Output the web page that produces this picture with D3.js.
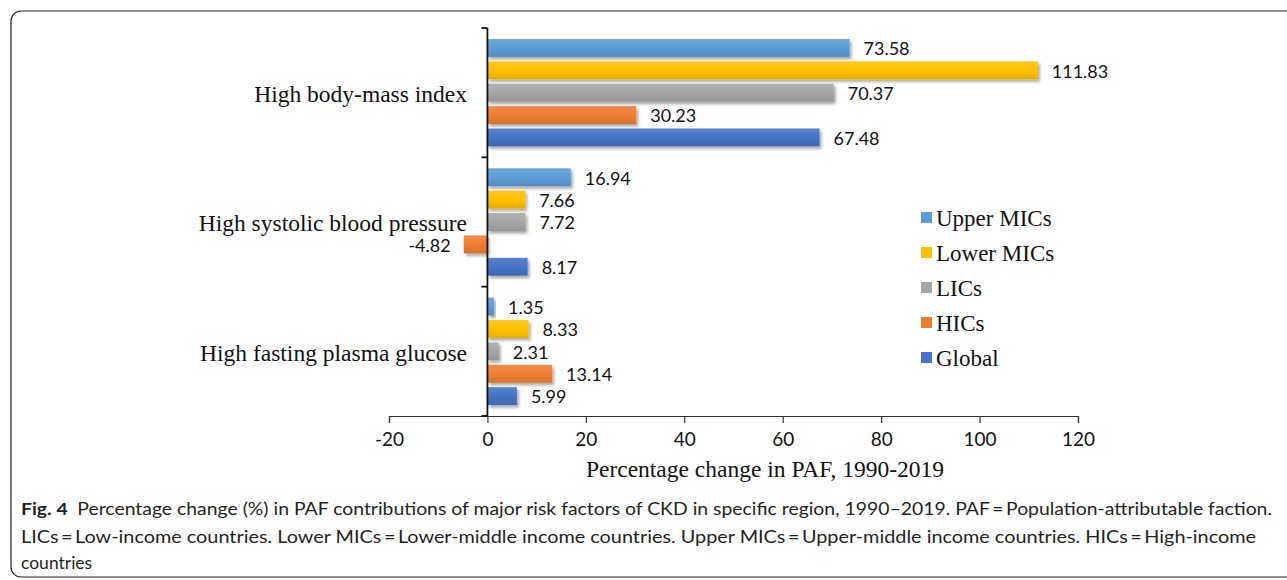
<!DOCTYPE html>
<html>
<head>
<meta charset="utf-8">
<script src="https://cdn.jsdelivr.net/npm/d3@7/dist/d3.min.js"></script>
<style>
  html, body { margin: 0; padding: 0; background: #fff; }
  svg { display: block; }
</style>
</head>
<body>
<svg id="chart" width="1287" height="580"></svg>
<script>
// Risk factors (top to bottom) and income groups (top to bottom within each factor)
const riskFactors = ["High body-mass index", "High systolic blood pressure", "High fasting plasma glucose"];
const groups = ["Upper MICs", "Lower MICs", "LICs", "HICs", "Global"];
const groupColors = ["#5B9BD5", "#FFC000", "#A5A5A5", "#ED7D31", "#4472C4"];

// Percentage change in PAF, 1990-2019, per group, in riskFactors order
const upperMICs = [73.58, 16.94, 1.35];
const lowerMICs = [111.83, 7.66, 8.33];
const lics      = [70.37, 7.72, 2.31];
const hics      = [30.23, -4.82, 13.14];
const globalPAF = [67.48, 8.17, 5.99];
const seriesValues = [upperMICs, lowerMICs, lics, hics, globalPAF];

const xTicks = [-20, 0, 20, 40, 60, 80, 100, 120];
const xTitle = "Percentage change in PAF, 1990-2019";

const captionLines = [
  [{ t: "Fig. 4", bold: true }, { t: "\u2002Percentage change (%) in PAF contributions of major risk factors of CKD in specific region, 1990\u20132019. PAF\u2009=\u2009Population-attributable faction." }],
  [{ t: "LICs\u2009=\u2009Low-income countries. Lower MICs\u2009=\u2009Lower-middle income countries. Upper MICs\u2009=\u2009Upper-middle income countries. HICs\u2009=\u2009High-income" }],
  [{ t: "countries" }]
];

const svg = d3.select("#chart");

// Rounded frame around the figure
svg.append("rect")
  .attr("x", 11).attr("y", 11)
  .attr("width", 1300).attr("height", 566)
  .attr("rx", 10).attr("ry", 10)
  .attr("fill", "none").attr("stroke", "#222").attr("stroke-width", 1.2);

const defs = svg.append("defs");
const shadow = defs.append("filter").attr("id", "barShadow")
  .attr("x", "-10%").attr("y", "-30%").attr("width", "130%").attr("height", "180%");
shadow.append("feDropShadow")
  .attr("dx", 2).attr("dy", 2.5).attr("stdDeviation", 1.6)
  .attr("flood-color", "#000").attr("flood-opacity", 0.35);

groupColors.forEach((c, i) => {
  const g = defs.append("linearGradient").attr("id", "grad" + i)
    .attr("x1", 0).attr("y1", 0).attr("x2", 0).attr("y2", 1);
  g.append("stop").attr("offset", "0%").attr("stop-color", d3.interpolateRgb(c, "#fff")(0.12));
  g.append("stop").attr("offset", "55%").attr("stop-color", c);
  g.append("stop").attr("offset", "100%").attr("stop-color", d3.interpolateRgb(c, "#000")(0.1));
});

const plot = { left: 389, right: 1078, top: 28, bottom: 416 };

const x = d3.scaleLinear().domain([-20, 120]).range([plot.left, plot.right]);
const y = d3.scaleBand().domain(riskFactors).range([plot.top, plot.bottom]).padding(0);
const yInner = d3.scaleBand().domain(groups).range([0, y.bandwidth()])
  .paddingInner(0.2).paddingOuter(0.49);

// Bars
const rows = [];
riskFactors.forEach((rf, ri) => {
  groups.forEach((gname, gi) => {
    rows.push({ rf, gname, gi, v: seriesValues[gi][ri] });
  });
});

svg.append("g").selectAll("rect").data(rows).join("rect")
  .attr("x", d => x(Math.min(0, d.v)))
  .attr("y", d => y(d.rf) + yInner(d.gname))
  .attr("width", d => Math.abs(x(d.v) - x(0)))
  .attr("height", yInner.bandwidth())
  .attr("fill", d => "url(#grad" + d.gi + ")")
  .attr("filter", "url(#barShadow)");

// Value labels
svg.append("g").selectAll("text").data(rows).join("text")
  .attr("x", d => d.v >= 0 ? x(d.v) + 14 : x(d.v) - 13)
  .attr("y", d => y(d.rf) + yInner(d.gname) + yInner.bandwidth() / 2 + 1)
  .attr("dy", "0.35em")
  .attr("text-anchor", d => d.v >= 0 ? "start" : "end")
  .attr("font-family", "Lato, 'Open Sans', sans-serif")
  .attr("font-size", 18)
  .attr("fill", "#111")
  .text(d => d.v.toFixed(2));

// X axis
const xAxis = svg.append("g")
  .attr("transform", `translate(0,${plot.bottom})`)
  .call(d3.axisBottom(x).tickValues(xTicks).tickSize(7).tickSizeOuter(7).tickPadding(10).tickFormat(d => String(d)));
xAxis.select(".domain").attr("stroke", "#333").attr("stroke-width", 1.2);
xAxis.selectAll(".tick line").attr("stroke", "#333").attr("stroke-width", 1.2);
xAxis.selectAll(".tick text")
  .attr("font-family", "Lato, 'Open Sans', sans-serif")
  .attr("font-size", 19).attr("fill", "#111");

// Y axis line with separators between factors
const yAxis = svg.append("g");
yAxis.append("line")
  .attr("x1", x(0)).attr("x2", x(0))
  .attr("y1", plot.top).attr("y2", plot.bottom)
  .attr("stroke", "#111").attr("stroke-width", 1.8);
const seps = riskFactors.map(rf => y(rf)).concat([y(riskFactors[riskFactors.length - 1]) + y.bandwidth()]);
yAxis.selectAll("line.sep").data(seps).join("line").attr("class", "sep")
  .attr("x1", x(0) - 6).attr("x2", x(0))
  .attr("y1", d => d).attr("y2", d => d)
  .attr("stroke", "#111").attr("stroke-width", 1.8);

// Category labels
svg.append("g").selectAll("text").data(riskFactors).join("text")
  .attr("x", 467)
  .attr("y", d => y(d) + y.bandwidth() / 2 + 1)
  .attr("dy", "0.35em")
  .attr("text-anchor", "end")
  .attr("font-family", "'Liberation Serif', 'Times New Roman', serif")
  .attr("font-size", 23.5)
  .attr("fill", "#111")
  .text(d => d);

// Axis title
svg.append("text")
  .attr("x", 765).attr("y", 477)
  .attr("text-anchor", "middle")
  .attr("font-family", "'Liberation Serif', 'Times New Roman', serif")
  .attr("font-size", 23.5)
  .attr("fill", "#111")
  .text(xTitle);

// Legend
const legend = svg.append("g").attr("transform", "translate(921,217)");
const li = legend.selectAll("g").data(groups).join("g")
  .attr("transform", (d, i) => `translate(0,${i * 35})`);
li.append("rect")
  .attr("x", 0).attr("y", -5).attr("width", 11).attr("height", 11)
  .attr("fill", (d, i) => groupColors[i]);
li.append("text")
  .attr("x", 15).attr("y", 1).attr("dy", "0.35em")
  .attr("font-family", "'Liberation Serif', 'Times New Roman', serif")
  .attr("font-size", 23)
  .attr("fill", "#111")
  .text(d => d);

// Caption
const capBase = [515, 543, 569];
const capLen = [1251, 1235, null];
captionLines.forEach((parts, i) => {
  const t = svg.append("text")
    .attr("x", 21).attr("y", capBase[i])
    .attr("font-family", "Lato, 'Open Sans', sans-serif")
    .attr("font-size", 17.5)
    .attr("fill", "#231f20");
  if (capLen[i]) t.attr("textLength", capLen[i]).attr("lengthAdjust", "spacingAndGlyphs");
  parts.forEach(p => {
    t.append("tspan").attr("font-weight", p.bold ? 700 : 400).text(p.t);
  });
});
</script>
</body>
</html>
